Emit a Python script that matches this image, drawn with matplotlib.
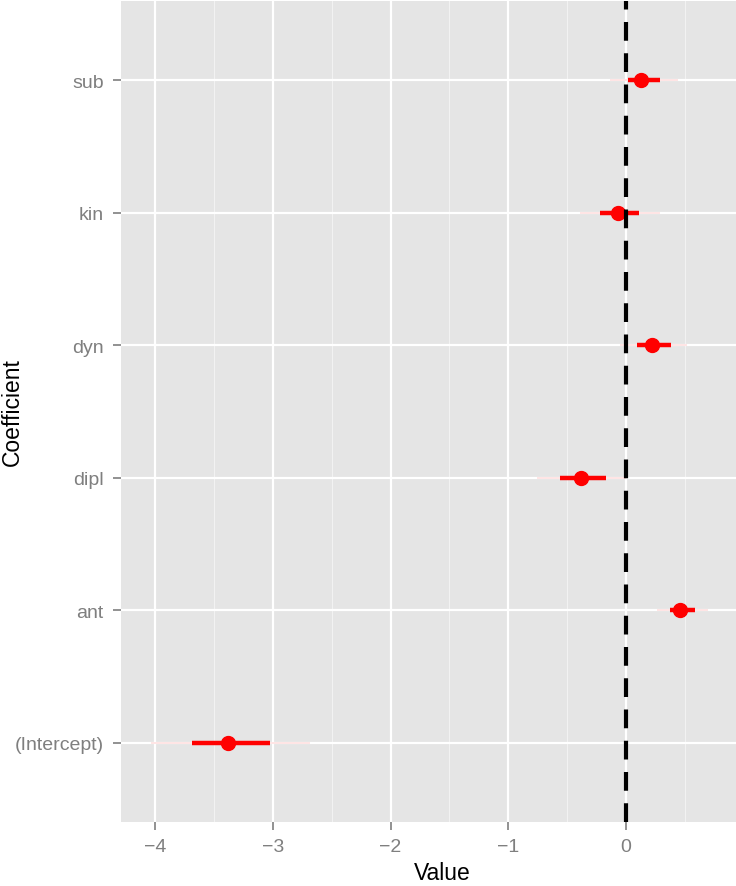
import matplotlib
matplotlib.use("Agg")
import matplotlib.pyplot as plt
import numpy as np

plt.rcParams['font.family'] = ['Liberation Sans', 'DejaVu Sans']

coefs = ["(Intercept)", "ant", "dipl", "dyn", "kin", "sub"]
values = [-3.38, 0.46, -0.38, 0.22, -0.07, 0.13]
inner_lo = [-3.69, 0.37, -0.56, 0.09, -0.22, 0.02]
inner_hi = [-3.02, 0.59, -0.17, 0.38, 0.11, 0.29]
outer_lo = [-4.03, 0.26, -0.76, -0.05, -0.39, -0.14]
outer_hi = [-2.68, 0.70, 0.00, 0.52, 0.29, 0.44]
xticks = [-4, -3, -2, -1, 0]

W, H = 736, 887
fig = plt.figure(figsize=(W / 100, H / 100), dpi=100)
ax = fig.add_axes([121 / W, (H - 823) / H, 1 - 121 / W, 821 / H])
ax.set_facecolor("#E5E5E5")
for s in ax.spines.values():
    s.set_visible(False)

ax.set_xlim(-4.289, 0.934)
ax.set_ylim(0.404, 6.596)
ypos = np.arange(1, len(coefs) + 1)

# grid
for x in np.arange(-4.5, 1.0, 0.5):
    if float(x).is_integer():
        ax.axvline(x, color="white", lw=1.6, zorder=0)
    else:
        ax.axvline(x, color="#F2F2F2", lw=0.8, zorder=0)
for y in ypos:
    ax.axhline(y, color="white", lw=1.6, zorder=0)

ax.hlines(ypos, outer_lo, outer_hi, color="#FF0000", alpha=0.12, lw=1.2, zorder=2)
ax.hlines(ypos, inner_lo, inner_hi, color="#FF0000", lw=3.2, zorder=3)
ax.plot(values, ypos, "o", color="#FF0000", ms=10, zorder=4)
ax.axvline(0, color="black", lw=3, linestyle=(0, (4.5, 3)), zorder=5)

ax.set_xticks(xticks)
ax.set_xticklabels([("\u2212" + str(abs(t))) if t < 0 else str(t) for t in xticks])
ax.set_yticks(ypos)
ax.set_yticklabels(coefs)
ax.tick_params(axis="both", colors="#7F7F7F", labelsize=14, length=5.5, width=1.2)
ax.tick_params(axis="x", pad=6)
ax.tick_params(axis="y", pad=7)
fig.text(442 / W, 1 - 874 / H, "Value", fontsize=16.5, ha="center", va="center")
fig.text(12 / W, 1 - 412 / H, "Coefficient", rotation=90, fontsize=16.5,
         ha="center", va="center")

fig.savefig("out.png", dpi=100)
